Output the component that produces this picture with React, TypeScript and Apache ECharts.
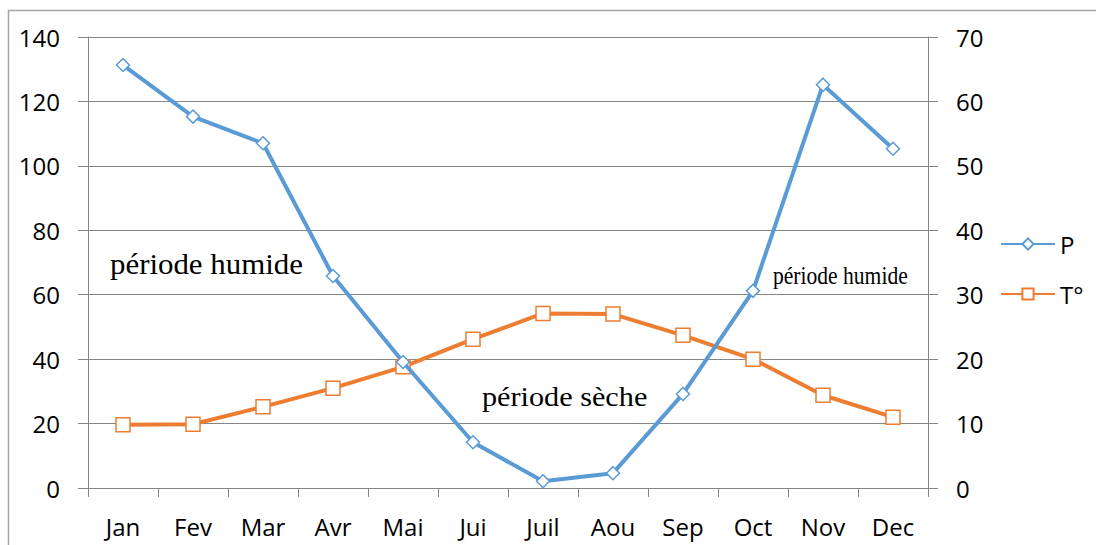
import React, { useEffect, useRef } from "react";
import * as echarts from "echarts";

const months = ["Jan", "Fev", "Mar", "Avr", "Mai", "Jui", "Juil", "Aou", "Sep", "Oct", "Nov", "Dec"];
const precipitation = [131.3, 115.3, 107, 65.8, 39.1, 14.2, 2.1, 4.6, 29.2, 61.2, 125.2, 105.3];
const temperature = [9.8, 9.9, 12.6, 15.5, 18.8, 23.1, 27.1, 27.0, 23.7, 20.0, 14.4, 11.0];
const leftTicks = { min: 0, max: 140, interval: 20 };
const rightTicks = { min: 0, max: 70, interval: 10 };
const seriesNames = ["P", "T°"];

export default function App() {
  const ref = useRef<HTMLDivElement>(null);
  useEffect(() => {
    if (!ref.current) return;
    const chart = echarts.init(ref.current, undefined, { renderer: "svg" });
    const axisGray = "#868686";
    const labelFont = { fontFamily: "Open Sans", fontSize: 24, color: "#000" };
    chart.setOption({
      animation: false,
      backgroundColor: "#fff",
      grid: { left: 88, right: 168, top: 37, bottom: 57, containLabel: false },
      legend: {
        orient: "vertical",
        left: 1000,
        top: 232,
        padding: 0,
        itemWidth: 54,
        itemHeight: 14,
        itemGap: 26,
        textStyle: { fontFamily: "Open Sans", fontSize: 24, color: "#000", lineHeight: 24 },
        data: seriesNames,
      },
      xAxis: {
        type: "category",
        data: months,
        boundaryGap: true,
        axisLine: { lineStyle: { color: axisGray, width: 1 } },
        axisTick: { show: true, length: 9, alignWithLabel: false, lineStyle: { color: axisGray } },
        axisLabel: { ...labelFont, margin: 26 },
      },
      yAxis: [
        {
          type: "value",
          ...leftTicks,
          axisLine: { show: true, lineStyle: { color: axisGray } },
          axisTick: { show: true, length: 10, lineStyle: { color: axisGray } },
          splitLine: { show: true, lineStyle: { color: axisGray, width: 1 } },
          axisLabel: { ...labelFont, margin: 28 },
        },
        {
          type: "value",
          position: "right",
          ...rightTicks,
          axisLine: { show: true, lineStyle: { color: axisGray } },
          axisTick: { show: true, length: 10, lineStyle: { color: axisGray } },
          splitLine: { show: false },
          axisLabel: { ...labelFont, margin: 28 },
        },
      ],
      series: [
        {
          name: seriesNames[0],
          type: "line",
          yAxisIndex: 0,
          data: precipitation,
          symbol: "diamond",
          symbolSize: 13,
          lineStyle: { color: "#5B9BD5", width: 4 },
          itemStyle: { color: "#fff", borderColor: "#5B9BD5", borderWidth: 1.5 },
          z: 3,
        },
        {
          name: seriesNames[1],
          type: "line",
          yAxisIndex: 1,
          data: temperature,
          symbol: "rect",
          symbolSize: 14,
          lineStyle: { color: "#ED7D31", width: 4 },
          itemStyle: { color: "#fff", borderColor: "#ED7D31", borderWidth: 1.5 },
          z: 2,
        },
      ],
      graphic: [
        {
          type: "rect",
          shape: { x: 8.5, y: 10.5, width: 1200, height: 600 },
          style: { fill: "none", stroke: "#A6A6A6", lineWidth: 1.5 },
          silent: true,
          z: -1,
        },
        {
          type: "text",
          x: 110,
          y: 264,
          scaleX: 1.065,
          style: { text: "période humide", font: "29px 'Liberation Serif'", fill: "#000", verticalAlign: "middle" },
        },
        {
          type: "text",
          x: 482,
          y: 396,
          scaleX: 1.08,
          style: { text: "période sèche", font: "28px 'Liberation Serif'", fill: "#000", verticalAlign: "middle" },
        },
        {
          type: "text",
          x: 773,
          y: 275,
          scaleX: 0.83,
          style: { text: "période humide", font: "26px 'Liberation Serif'", fill: "#000", verticalAlign: "middle" },
        },
      ],
    });
    return () => chart.dispose();
  }, []);
  return <div ref={ref} style={{ position: "fixed", left: 0, top: 0, width: 1096, height: 545 }} />;
}
